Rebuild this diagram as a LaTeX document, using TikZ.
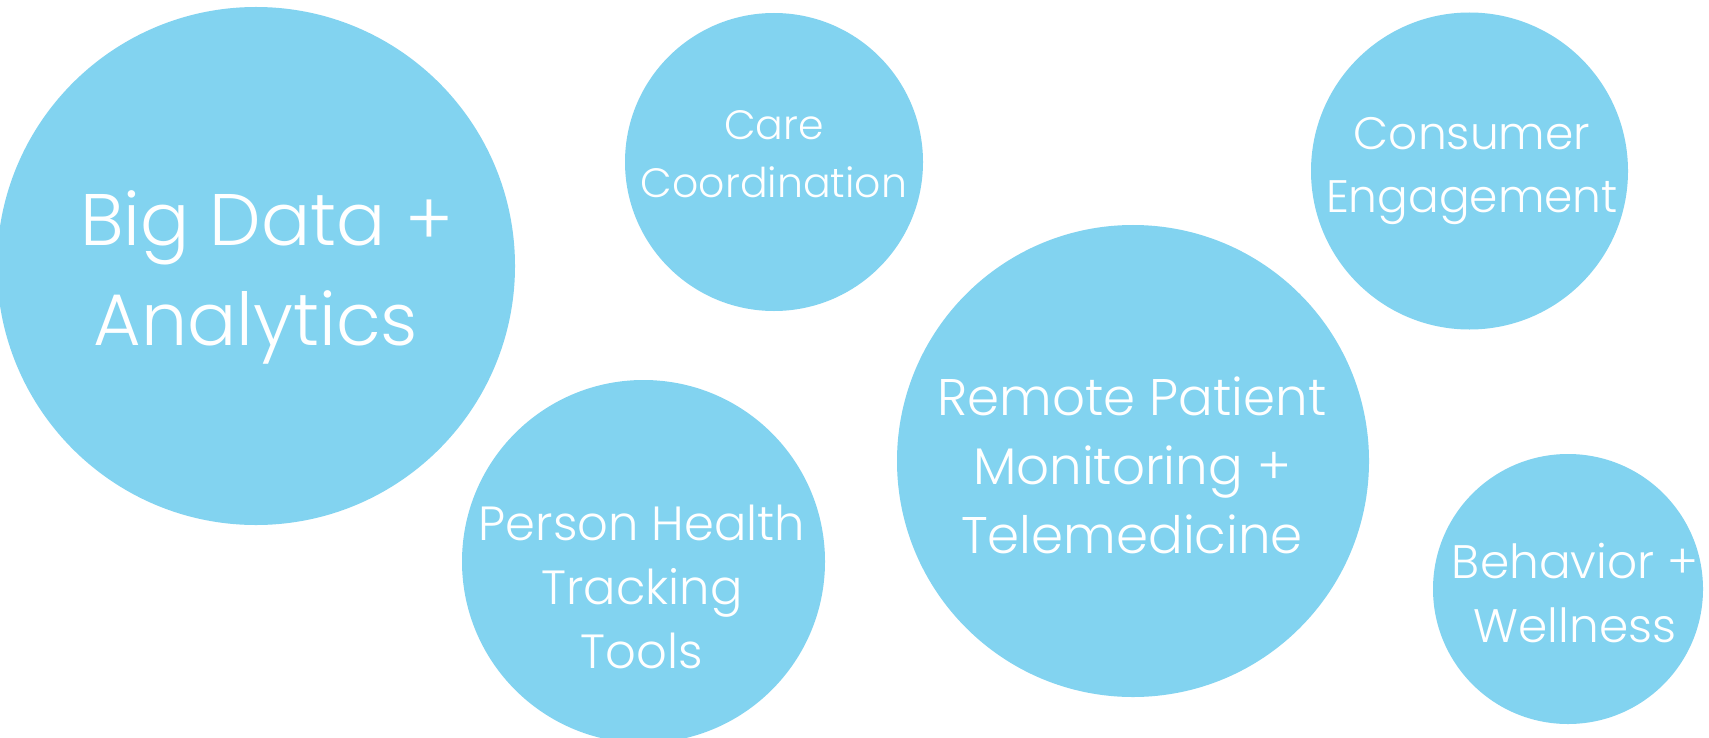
\documentclass[tikz,border=0pt]{standalone}
\usepackage{fontspec}
\setmainfont{Poppins}[UprightFont={* Light}]
\definecolor{bubble}{RGB}{130,211,240}
\tikzset{
  bub/.style={circle, fill=bubble, draw=none, inner sep=0pt, minimum size=#1},
  lbl/.style={text=white, anchor=base, inner sep=0pt},
}
\newcommand{\blines}[3]{\fontsize{#1bp}{#2bp}\selectfont\setlength{\tabcolsep}{0pt}\begin{tabular}[t]{c}#3\end{tabular}}
\begin{document}
\begin{tikzpicture}[x=1bp,y=-1bp]
\path[use as bounding box, clip] (0,0) rectangle (1709,738);
\fill[white] (0,0) rectangle (1709,738);
% bubbles
\node[bub=518bp] (cBig) at (256,266) {};
\node[bub=298bp] (cCare) at (774,162) {};
\node[bub=317bp] (cCons) at (1469.5,171) {};
\node[bub=472bp] (cRem) at (1133,461) {};
\node[bub=363bp] (cPer) at (643.5,561.5) {};
\node[bub=270bp] (cBeh) at (1568,589) {};
% labels
\node[lbl] (tBig) at (256,245) {\blines{73}{100}{\hspace{22bp}Big Data +\\Analytics}};
\node[lbl] (tCare) at (774,139) {\blines{41}{58}{Care\\Coordination}};
\node[lbl] (tCons) at (1472,149) {\blines{45.5}{63}{Consumer\\Engagement}};
\node[lbl] (tRem) at (1132,415) {\blines{51.5}{69}{Remote Patient\\Monitoring +\\Telemedicine}};
\node[lbl] (tPer) at (642,540) {\blines{48}{64}{Person Health\\Tracking\\Tools}};
\node[lbl] (tBeh) at (1575,578) {\blines{47}{64}{Behavior +\\Wellness}};
\end{tikzpicture}
\end{document}
